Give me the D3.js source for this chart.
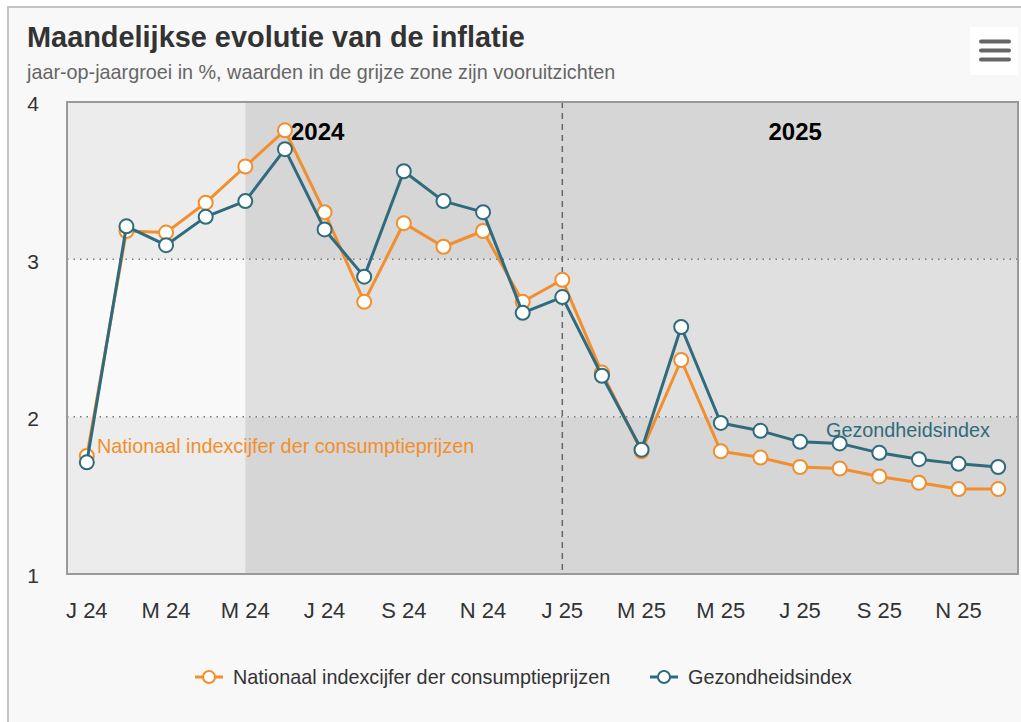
<!DOCTYPE html>
<html>
<head>
<meta charset="utf-8">
<script src="https://cdn.jsdelivr.net/npm/d3@7/dist/d3.min.js"></script>
<style>
  html, body { margin: 0; padding: 0; background: #ffffff; }
  svg { display: block; font-family: "Liberation Sans", Arial, sans-serif; }
</style>
</head>
<body>
<svg id="chart" width="1021" height="722"></svg>
<script>
// Months on the category axis (January 2024 – December 2025)
const months = [
  "2024-01", "2024-02", "2024-03", "2024-04", "2024-05", "2024-06",
  "2024-07", "2024-08", "2024-09", "2024-10", "2024-11", "2024-12",
  "2025-01", "2025-02", "2025-03", "2025-04", "2025-05", "2025-06",
  "2025-07", "2025-08", "2025-09", "2025-10", "2025-11", "2025-12"
];

// Axis tick months and their labels
const tickMonths = ["2024-01", "2024-03", "2024-05", "2024-07", "2024-09", "2024-11",
                    "2025-01", "2025-03", "2025-05", "2025-07", "2025-09", "2025-11"];
const tickLabels = ["J 24", "M 24", "M 24", "J 24", "S 24", "N 24",
                    "J 25", "M 25", "M 25", "J 25", "S 25", "N 25"];
const yTicks = [1, 2, 3, 4];

// Year-on-year growth in %
const cpiValues = [1.75, 3.18, 3.17, 3.36, 3.59, 3.82, 3.30, 2.73, 3.23, 3.08, 3.18, 2.73,
                   2.87, 2.28, 1.78, 2.36, 1.78, 1.74, 1.68, 1.67, 1.62, 1.58, 1.54, 1.54];
const healthValues = [1.71, 3.21, 3.09, 3.27, 3.37, 3.70, 3.19, 2.89, 3.56, 3.37, 3.30, 2.66,
                      2.76, 2.26, 1.79, 2.57, 1.96, 1.91, 1.84, 1.83, 1.77, 1.73, 1.70, 1.68];

const seriesNames = ["Nationaal indexcijfer der consumptieprijzen", "Gezondheidsindex"];
const forecastStart = "2024-05";
const yearSplit = "2025-01";
const yearLabels = ["2024", "2025"];

const colors = { cpi: "#f28e2b", health: "#2f6b7c" };

const svg = d3.select("#chart");
const W = 1021, H = 722;
const plot = { left: 67, right: 1018, top: 102, bottom: 574 };

// Container
svg.append("rect").attr("x", 0).attr("y", 0).attr("width", W).attr("height", H).attr("fill", "#ffffff");
svg.append("rect").attr("x", 8).attr("y", 7).attr("width", W + 10).attr("height", H + 10)
  .attr("fill", "#f8f8f8").attr("stroke", "#c4c4c4").attr("stroke-width", 2);

// Title and subtitle
svg.append("text").attr("x", 27).attr("y", 47)
  .attr("font-size", 28.9).attr("font-weight", "bold").attr("fill", "#333333")
  .text("Maandelijkse evolutie van de inflatie");
svg.append("text").attr("x", 27).attr("y", 79)
  .attr("font-size", 19.8).attr("fill", "#666666")
  .text("jaar-op-jaargroei in %, waarden in de grijze zone zijn vooruitzichten");

// Context menu button
const menu = svg.append("g");
menu.append("rect").attr("x", 970).attr("y", 27).attr("width", 48).attr("height", 48).attr("fill", "#ffffff");
[41.5, 50.5, 59.5].forEach(yy => {
  menu.append("line").attr("x1", 981).attr("x2", 1009).attr("y1", yy).attr("y2", yy)
    .attr("stroke", "#666666").attr("stroke-width", 4).attr("stroke-linecap", "round");
});

// Scales
const x = d3.scaleBand().domain(months).range([plot.left, plot.right]).padding(0);
const cx = m => x(m) + x.bandwidth() / 2;
const y = d3.scaleLinear().domain([1, 4]).range([plot.bottom, plot.top]);

// Plot background: alternating horizontal bands, darker forecast zone
const bg = svg.append("g");
const bands = [
  { from: 1, to: 2, base: "#ececec", fc: "#d6d6d6" },
  { from: 2, to: 3, base: "#f9f9f9", fc: "#e0e0e0" },
  { from: 3, to: 4, base: "#ececec", fc: "#d6d6d6" }
];
const xf = cx(forecastStart);
bands.forEach(b => {
  bg.append("rect").attr("x", plot.left).attr("y", y(b.to))
    .attr("width", xf - plot.left).attr("height", y(b.from) - y(b.to)).attr("fill", b.base);
  bg.append("rect").attr("x", xf).attr("y", y(b.to))
    .attr("width", plot.right - xf).attr("height", y(b.from) - y(b.to)).attr("fill", b.fc);
});

// Dotted grid lines
svg.append("g").selectAll("line").data(yTicks.filter(t => t > 1 && t < 4)).join("line")
  .attr("x1", plot.left).attr("x2", plot.right)
  .attr("y1", d => y(d)).attr("y2", d => y(d))
  .attr("stroke", "#7a7a7a").attr("stroke-width", 1.5).attr("stroke-dasharray", "1.5,5");

// Year divider
const xs = cx(yearSplit);
svg.append("line").attr("x1", xs).attr("x2", xs).attr("y1", plot.top).attr("y2", plot.bottom)
  .attr("stroke", "#666666").attr("stroke-width", 1.5).attr("stroke-dasharray", "6,5");

// Year labels
svg.append("text").attr("x", (plot.left + xs) / 2 + 3).attr("y", 140).attr("text-anchor", "middle")
  .attr("font-size", 24).attr("font-weight", "bold").attr("fill", "#000000").text(yearLabels[0]);
svg.append("text").attr("x", (xs + plot.right) / 2 + 5).attr("y", 140).attr("text-anchor", "middle")
  .attr("font-size", 24).attr("font-weight", "bold").attr("fill", "#000000").text(yearLabels[1]);

// Plot border
svg.append("rect").attr("x", plot.left).attr("y", plot.top)
  .attr("width", plot.right - plot.left).attr("height", plot.bottom - plot.top)
  .attr("fill", "none").attr("stroke", "#999999").attr("stroke-width", 2);

// Y axis labels
const yAxis = d3.axisLeft(y).tickValues(yTicks).tickFormat(d3.format("d")).tickSize(0).tickPadding(0);
const yg = svg.append("g").attr("transform", `translate(39,2)`).call(yAxis);
yg.select(".domain").remove();
yg.selectAll("text").attr("font-size", 21).attr("fill", "#333333")
  .attr("font-family", "'Liberation Sans', Arial, sans-serif");

// X axis labels
const xAxis = d3.axisBottom(x).tickValues(tickMonths)
  .tickFormat(m => tickLabels[tickMonths.indexOf(m)]).tickSize(0).tickPadding(0);
const xg = svg.append("g").attr("transform", `translate(0,602)`).call(xAxis);
xg.select(".domain").remove();
xg.selectAll("text").attr("font-size", 22).attr("fill", "#333333")
  .attr("font-family", "'Liberation Sans', Arial, sans-serif");

// Series
const line = d3.line().x((d, i) => cx(months[i])).y(d => y(d));
const series = [
  { name: seriesNames[0], values: cpiValues, color: colors.cpi },
  { name: seriesNames[1], values: healthValues, color: colors.health }
];
series.forEach(s => {
  const g = svg.append("g");
  g.append("path").datum(s.values).attr("d", line)
    .attr("fill", "none").attr("stroke", s.color).attr("stroke-width", 3)
    .attr("stroke-linejoin", "round");
  g.selectAll("circle").data(s.values).join("circle")
    .attr("cx", (d, i) => cx(months[i])).attr("cy", d => y(d)).attr("r", 7)
    .attr("fill", "#ffffff").attr("stroke", s.color).attr("stroke-width", 2);
});

// Series labels inside the plot
svg.append("text").attr("x", 97).attr("y", 453)
  .attr("font-size", 19.8).attr("fill", colors.cpi).text(seriesNames[0]);
svg.append("text").attr("x", 826).attr("y", 437)
  .attr("font-size", 19.8).attr("fill", colors.health).text(seriesNames[1]);

// Legend
const legendItems = [
  { name: seriesNames[0], color: colors.cpi, x: 195 },
  { name: seriesNames[1], color: colors.health, x: 650 }
];
legendItems.forEach(it => {
  const g = svg.append("g").attr("transform", `translate(${it.x},677)`);
  g.append("line").attr("x1", 0).attr("x2", 28).attr("y1", 0).attr("y2", 0)
    .attr("stroke", it.color).attr("stroke-width", 3);
  g.append("circle").attr("cx", 14).attr("cy", 0).attr("r", 6)
    .attr("fill", "#ffffff").attr("stroke", it.color).attr("stroke-width", 2);
  g.append("text").attr("x", 38).attr("y", 7).attr("font-size", 19.8).attr("fill", "#333333").text(it.name);
});
</script>
</body>
</html>
